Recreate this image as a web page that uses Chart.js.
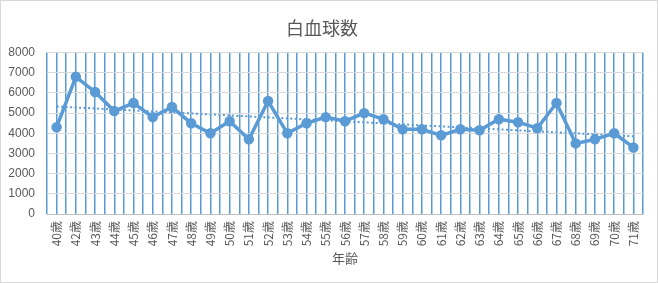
<!DOCTYPE html>
<html>
<head>
<meta charset="utf-8">
<script src="https://cdn.jsdelivr.net/npm/chart.js@4"></script>
<style>
    html, body { margin: 0; padding: 0; background: #fff; }
    #wrap { width: 656px; height: 281px; border: 1px solid #d9d9d9; }
</style>
</head>
<body>
<div id="wrap"><canvas id="wbcChart" width="656" height="281"></canvas></div>
<script>
// データ
const ages = ["40歳", "42歳", "43歳", "44歳", "45歳", "46歳", "47歳", "48歳", "49歳", "50歳",
    "51歳", "52歳", "53歳", "54歳", "55歳", "56歳", "57歳", "58歳", "59歳", "60歳",
    "61歳", "62歳", "63歳", "64歳", "65歳", "66歳", "67歳", "68歳", "69歳", "70歳", "71歳"];
const wbcValues = [4300, 6800, 6050, 5100, 5500, 4800, 5300, 4500, 4000, 4600,
    3700, 5600, 4000, 4500, 4800, 4600, 5000, 4700, 4200, 4200,
    3900, 4200, 4150, 4700, 4550, 4250, 5500, 3500, 3700, 4000, 3300];
// 近似曲線（線形）の両端の値
const trendStart = 5330;
const trendEnd = 3850;
const yTicks = [0, 1000, 2000, 3000, 4000, 5000, 6000, 7000, 8000];

const blue = "#5B9BD5";
const textColor = "#595959";
const fontFamily = "'Noto Sans CJK JP', 'Liberation Sans', sans-serif";

const trendData = ages.map((a, i) => {
    if (i === 0) return trendStart;
    if (i === ages.length - 1) return trendEnd;
    return null;
});

new Chart(document.getElementById("wbcChart"), {
    type: "line",
    data: {
        labels: ages,
        datasets: [
            {
                label: "白血球数",
                data: wbcValues,
                borderColor: blue,
                backgroundColor: blue,
                borderWidth: 3.5,
                pointRadius: 3.5,
                pointBackgroundColor: blue,
                pointBorderColor: blue,
                tension: 0
            },
            {
                label: "線形 (白血球数)",
                data: trendData,
                spanGaps: true,
                borderColor: blue,
                borderWidth: 2,
                borderDash: [2, 2.5],
                pointRadius: 0,
                tension: 0
            }
        ]
    },
    options: {
        responsive: false,
        animation: false,
        layout: { padding: { left: 0, right: 14, top: 0, bottom: 16 } },
        plugins: {
            legend: { display: false },
            tooltip: { enabled: false },
            title: {
                display: true,
                text: "白血球数",
                color: textColor,
                font: { family: fontFamily, size: 18, weight: "normal" },
                padding: { top: 16, bottom: 14 }
            }
        },
        scales: {
            x: {
                offset: true,
                afterFit: axis => { axis.height = 52; },
                grid: { offset: true, color: blue, lineWidth: 1.5, drawTicks: false },
                border: { color: "#bfbfbf" },
                ticks: {
                    color: textColor,
                    font: { family: fontFamily, size: 12 },
                    minRotation: 90,
                    maxRotation: 90,
                    autoSkip: false,
                    padding: 7
                },
                title: {
                    display: true,
                    text: "年齢",
                    color: textColor,
                    font: { family: fontFamily, size: 13 },
                    padding: { top: 0, bottom: 0 }
                }
            },
            x2: {
                type: "category",
                labels: ages,
                position: "bottom",
                offset: true,
                afterFit: axis => { axis.height = 0; },
                grid: { offset: false, color: blue, lineWidth: 1.5, drawTicks: false },
                border: { display: false },
                ticks: { display: false }
            },
            y: {
                min: 0,
                max: 8000,
                afterBuildTicks: axis => { axis.ticks = yTicks.map(v => ({ value: v })); },
                afterFit: axis => { axis.width = 46; },
                grid: { color: "#d9d9d9", drawTicks: false },
                border: { display: false },
                ticks: {
                    color: textColor,
                    font: { family: "'Liberation Sans', sans-serif", size: 12 },
                    padding: 12,
                    callback: value => String(value)
                }
            }
        }
    }
});
</script>
</body>
</html>
